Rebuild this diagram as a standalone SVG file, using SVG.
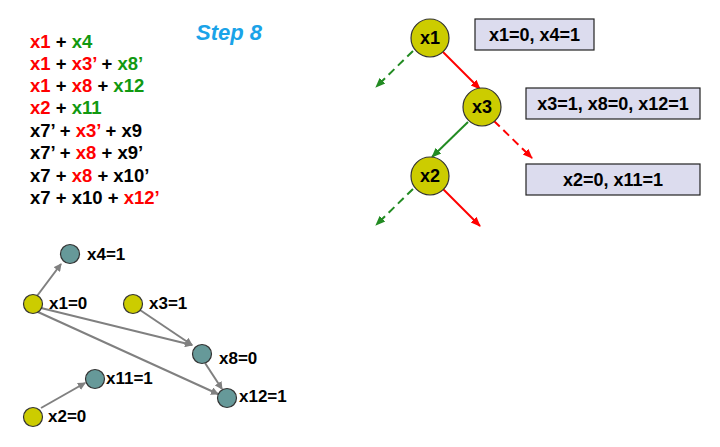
<svg xmlns="http://www.w3.org/2000/svg" width="720" height="447" viewBox="0 0 720 447">
<style>
.t{font-family:"Liberation Sans",Arial,sans-serif;font-weight:bold;font-size:18.5px;fill:#000}
.r{fill:#ff0000}.g{fill:#119911}
.lbl{font-family:"Liberation Sans",Arial,sans-serif;font-weight:bold;font-size:17px;fill:#000;dominant-baseline:central}
.nl{font-size:18px}
.yc{fill:#cccc00;stroke:#333;stroke-width:1.2}
.tc{fill:#669999;stroke:#333;stroke-width:1.2}
.box{fill:#dcdcee;stroke:#222;stroke-width:1.2}
.ge{stroke:#808080;stroke-width:2;fill:none;marker-end:url(#ag)}
</style>
<defs>
<marker id="ag" markerWidth="8" markerHeight="8" refX="7" refY="4" orient="auto" markerUnits="userSpaceOnUse"><path d="M0,0L8,4L0,8z" fill="#808080"/></marker>
<marker id="ar" markerWidth="10" markerHeight="10" refX="9" refY="5" orient="auto" markerUnits="userSpaceOnUse"><path d="M0,1L10,5L0,9z" fill="#ff0000"/></marker>
<marker id="agr" markerWidth="10" markerHeight="10" refX="9" refY="5" orient="auto" markerUnits="userSpaceOnUse"><path d="M0,1L10,5L0,9z" fill="#228b22"/></marker>
</defs>
<rect width="720" height="447" fill="#fff"/>
<g id="clauses" class="t">
<text x="30" y="48"><tspan class="r">x1</tspan> + <tspan class="g">x4</tspan></text>
<text x="30" y="70"><tspan class="r">x1</tspan> + <tspan class="r">x3’</tspan> + <tspan class="g">x8’</tspan></text>
<text x="30" y="92"><tspan class="r">x1</tspan> + <tspan class="r">x8</tspan> + <tspan class="g">x12</tspan></text>
<text x="30" y="114"><tspan class="r">x2</tspan> + <tspan class="g">x11</tspan></text>
<text x="30" y="137">x7’ + <tspan class="r">x3’</tspan> + x9</text>
<text x="30" y="159">x7’ + <tspan class="r">x8</tspan> + x9’</text>
<text x="30" y="182">x7 + <tspan class="r">x8</tspan> + x10’</text>
<text x="30" y="204">x7 + x10 + <tspan class="r">x12’</tspan></text>
</g>
<text id="title" x="229" y="40" text-anchor="middle" style="font-family:'Liberation Sans',Arial,sans-serif;font-weight:bold;font-style:italic;font-size:22px;fill:#1aa3e8">Step 8</text>
<g id="tree-connectors" stroke-width="2" fill="none">
<line x1="413" y1="51" x2="376" y2="87" stroke="#228b22" stroke-dasharray="8,5" marker-end="url(#agr)"/>
<line x1="443" y1="52" x2="480" y2="89" stroke="#ff0000" marker-end="url(#ar)"/>
<line x1="468" y1="122" x2="432" y2="157" stroke="#228b22" marker-end="url(#agr)"/>
<line x1="494" y1="121" x2="532" y2="158" stroke="#ff0000" stroke-dasharray="8,5" marker-end="url(#ar)"/>
<line x1="413" y1="189" x2="376" y2="225" stroke="#228b22" stroke-dasharray="8,5" marker-end="url(#agr)"/>
<line x1="443" y1="189" x2="480" y2="226" stroke="#ff0000" marker-end="url(#ar)"/>
</g>
<g id="t-x1"><circle class="yc" cx="430" cy="38" r="19"/><text class="lbl nl" x="430" y="38" text-anchor="middle">x1</text></g>
<g id="t-x3"><circle class="yc" cx="482" cy="107" r="19"/><text class="lbl nl" x="482" y="107" text-anchor="middle">x3</text></g>
<g id="t-x2"><circle class="yc" cx="430" cy="176" r="19"/><text class="lbl nl" x="430" y="176" text-anchor="middle">x2</text></g>
<g id="box1"><rect class="box" x="475" y="19" width="119" height="31"/><text class="lbl nl" x="534.5" y="35" text-anchor="middle">x1=0, x4=1</text></g>
<g id="box2"><rect class="box" x="526" y="88" width="174" height="31"/><text class="lbl nl" x="613" y="104" text-anchor="middle">x3=1, x8=0, x12=1</text></g>
<g id="box3"><rect class="box" x="526" y="164" width="174" height="31"/><text class="lbl nl" x="613" y="180" text-anchor="middle">x2=0, x11=1</text></g>
<g id="graph-connectors">
<line class="ge" x1="37" y1="296" x2="61" y2="264"/>
<line class="ge" x1="41" y1="308" x2="192" y2="345"/>
<line class="ge" x1="38" y1="312" x2="218" y2="394"/>
<line class="ge" x1="140" y1="310" x2="192" y2="345"/>
<line class="ge" x1="205" y1="363" x2="222" y2="389"/>
<line class="ge" x1="41" y1="408" x2="85" y2="383"/>
</g>
<g id="g-x4"><circle class="tc" cx="70" cy="254" r="9.5"/><text class="lbl" x="87" y="254">x4=1</text></g>
<g id="g-x1"><circle class="yc" cx="33" cy="304" r="9.5"/><text class="lbl" x="49" y="303">x1=0</text></g>
<g id="g-x3"><circle class="yc" cx="133" cy="304" r="9.5"/><text class="lbl" x="149" y="303">x3=1</text></g>
<g id="g-x8"><circle class="tc" cx="202" cy="354" r="9.5"/><text class="lbl" x="219" y="358">x8=0</text></g>
<g id="g-x11"><circle class="tc" cx="95" cy="379" r="9.5"/><text class="lbl" x="106" y="378">x11=1</text></g>
<g id="g-x12"><circle class="tc" cx="227" cy="398" r="9.5"/><text class="lbl" x="239" y="396">x12=1</text></g>
<g id="g-x2"><circle class="yc" cx="33" cy="417" r="9.5"/><text class="lbl" x="48" y="416">x2=0</text></g>
</svg>
